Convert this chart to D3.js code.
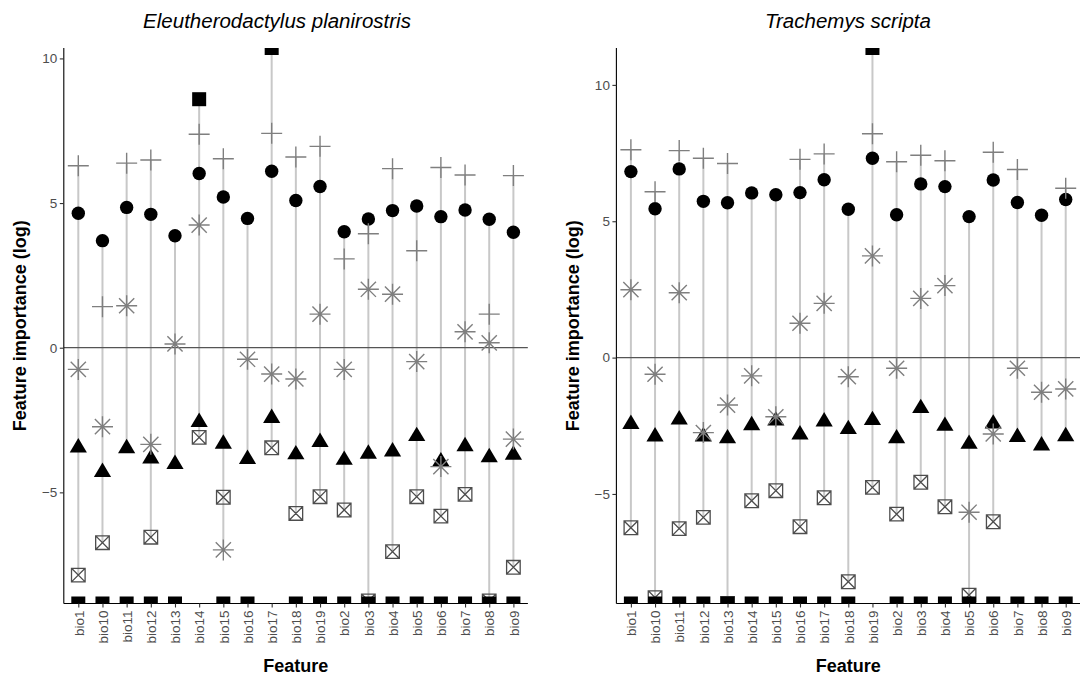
<!DOCTYPE html>
<html>
<head>
<meta charset="utf-8">
<script src="https://cdn.jsdelivr.net/npm/d3@7"></script>
<style>
  html, body { margin: 0; padding: 0; background: #fff; }
  svg { display: block; font-family: "Liberation Sans", Arial, Helvetica, sans-serif; }
</style>
</head>
<body>
<svg id="chart" width="1080" height="677"></svg>
<script>
// ---------------- DATA ----------------
const features = ["bio1","bio10","bio11","bio12","bio13","bio14","bio15","bio16","bio17","bio18","bio19","bio2","bio3","bio4","bio5","bio6","bio7","bio8","bio9"];
const yTicks = [-5, 0, 5, 10];
const titles = ["Eleutherodactylus planirostris", "Trachemys scripta"];
const xTitle = "Feature";
const yTitle = "Feature importance (log)";
const NEG = -Infinity, POS = Infinity;

// Eleutherodactylus planirostris
const leftPlus     = [6.29, 1.42, 6.38, 6.49, null, 7.38, 6.53, null, 7.41, 6.59, 6.96, 3.07, 3.94, 6.19, 3.35, 6.23, 5.97, 1.16, 5.95];
const leftCircle   = [4.65, 3.70, 4.85, 4.61, 3.87, 6.02, 5.21, 4.47, 6.10, 5.09, 5.57, 4.01, 4.45, 4.74, 4.90, 4.53, 4.76, 4.44, 3.99];
const leftStar     = [-0.75, -2.73, 1.45, -3.34, 0.13, 4.24, -6.99, -0.40, -0.91, -1.08, 1.16, -0.75, 2.02, 1.85, -0.48, -4.11, 0.55, 0.17, -3.16];
const leftTriangle = [-3.37, -4.22, -3.40, -3.75, -3.94, -2.49, -3.24, -3.77, -2.35, -3.61, -3.18, -3.80, -3.59, -3.51, -2.98, -3.85, -3.33, -3.71, -3.62];
const leftBoxX     = [-7.86, -6.74, null, -6.55, null, -3.10, -5.17, null, -3.46, -5.73, -5.15, -5.61, -8.75, -7.05, -5.15, -5.82, -5.07, -8.75, -7.59];
const leftSquare   = [NEG, NEG, NEG, NEG, NEG, 8.59, NEG, NEG, POS, NEG, NEG, NEG, NEG, NEG, NEG, NEG, NEG, NEG, NEG];
const leftYDomain  = [-8.842, 10.36];

// Trachemys scripta
const rightPlus     = [7.62, 6.08, 7.59, 7.31, 7.12, null, null, 7.27, 7.47, null, 8.21, 7.18, 7.42, 7.22, null, 7.53, 6.90, null, 6.21];
const rightCircle   = [6.82, 5.46, 6.92, 5.73, 5.68, 6.04, 5.97, 6.05, 6.52, 5.44, 7.31, 5.24, 6.37, 6.27, 5.17, 6.51, 5.69, 5.22, 5.80];
const rightStar     = [2.49, -0.61, 2.38, -2.75, -1.74, -0.67, -2.17, 1.26, 1.99, -0.70, 3.73, -0.39, 2.17, 2.64, -5.67, -2.80, -0.39, -1.27, -1.15];
const rightTriangle = [-2.35, -2.81, -2.19, -2.81, -2.88, -2.40, -2.23, -2.74, -2.26, -2.54, -2.21, -2.88, -1.77, -2.42, -3.08, -2.34, -2.83, -3.14, -2.80];
const rightBoxX     = [-6.24, -8.80, -6.27, -5.86, NEG, -5.25, -4.88, -6.20, -5.14, -8.22, -4.76, -5.74, -4.57, -5.47, -8.71, -6.02, null, null, null];
const rightSquare   = [NEG, NEG, NEG, NEG, NEG, NEG, NEG, NEG, NEG, NEG, POS, NEG, NEG, NEG, NEG, NEG, NEG, NEG, NEG];
const rightYDomain  = [-9.017, 11.353];

// ---------------- LAYOUT ----------------
const panels = [
  { title: titles[0], x0: 63.8, x1: 527.9, titleX: 277, yTitleX: 20, yDomain: leftYDomain,
    plus: leftPlus, circle: leftCircle, star: leftStar, tri: leftTriangle, boxx: leftBoxX, square: leftSquare },
  { title: titles[1], x0: 616.4, x1: 1080.2, titleX: 848, yTitleX: 573, yDomain: rightYDomain,
    plus: rightPlus, circle: rightCircle, star: rightStar, tri: rightTriangle, boxx: rightBoxX, square: rightSquare }
];
const panelTop = 48, panelBottom = 603.5;

const svg = d3.select("#chart");
const defs = svg.append("defs");

panels.forEach((p, pi) => {
  const x = d3.scalePoint().domain(features).range([p.x0, p.x1]).padding(0.6);
  const y = d3.scaleLinear().domain(p.yDomain).range([panelBottom, panelTop]).clamp(true);

  const clipId = "clip" + pi;
  defs.append("clipPath").attr("id", clipId).append("rect")
    .attr("x", p.x0).attr("y", panelTop).attr("width", p.x1 - p.x0).attr("height", panelBottom - panelTop);

  const g = svg.append("g");
  const plot = g.append("g").attr("clip-path", `url(#${clipId})`);

  const rows = features.map((f, i) => {
    const methods = [p.plus[i], p.circle[i], p.star[i], p.tri[i], p.boxx[i]].filter(v => v !== null);
    const all = methods.concat(p.square[i] !== null ? [p.square[i]] : []);
    return { f, lo: d3.min(methods), hi: d3.max(all),
      plus: p.plus[i], circle: p.circle[i], star: p.star[i], tri: p.tri[i], boxx: p.boxx[i], square: p.square[i] };
  });

  // vertical ranges
  plot.selectAll("line.range").data(rows).join("line")
    .attr("class", "range")
    .attr("x1", d => x(d.f)).attr("x2", d => x(d.f))
    .attr("y1", d => y(d.lo)).attr("y2", d => y(d.hi))
    .attr("stroke", "#c8c8c8").attr("stroke-width", 2);

  // zero line
  plot.append("line")
    .attr("x1", p.x0).attr("x2", p.x1).attr("y1", y(0)).attr("y2", y(0))
    .attr("stroke", "#555").attr("stroke-width", 1.2);

  // triangles (filled black)
  const tw = 8.6, th = 7.2;
  plot.selectAll("path.tri").data(rows.filter(d => d.tri !== null)).join("path")
    .attr("class", "tri")
    .attr("d", d => { const cx = x(d.f), cy = y(d.tri);
      return `M${cx},${cy - th}L${cx + tw},${cy + th}L${cx - tw},${cy + th}Z`; })
    .attr("fill", "#000");

  // circles
  plot.selectAll("circle.pt").data(rows.filter(d => d.circle !== null)).join("circle")
    .attr("class", "pt")
    .attr("cx", d => x(d.f)).attr("cy", d => y(d.circle)).attr("r", 6.7)
    .attr("fill", "#000");

  // plus
  const pr = 10.5;
  plot.selectAll("path.plus").data(rows.filter(d => d.plus !== null)).join("path")
    .attr("class", "plus")
    .attr("d", d => { const cx = x(d.f), cy = y(d.plus);
      return `M${cx - pr},${cy}H${cx + pr}M${cx},${cy - pr}V${cy + pr}`; })
    .attr("stroke", "#7f7f7f").attr("stroke-width", 1.4).attr("fill", "none");

  // asterisk
  const sr = 10.5, sd = 7.6;
  plot.selectAll("path.star").data(rows.filter(d => d.star !== null)).join("path")
    .attr("class", "star")
    .attr("d", d => { const cx = x(d.f), cy = y(d.star);
      return `M${cx - sr},${cy}H${cx + sr}M${cx},${cy - sr}V${cy + sr}` +
             `M${cx - sd},${cy - sd}L${cx + sd},${cy + sd}M${cx - sd},${cy + sd}L${cx + sd},${cy - sd}`; })
    .attr("stroke", "#7f7f7f").attr("stroke-width", 1.4).attr("fill", "none");

  // crossed squares
  const bs = 6.8;
  plot.selectAll("path.boxx").data(rows.filter(d => d.boxx !== null)).join("path")
    .attr("class", "boxx")
    .attr("d", d => { const cx = x(d.f), cy = y(d.boxx);
      return `M${cx - bs},${cy - bs}H${cx + bs}V${cy + bs}H${cx - bs}Z` +
             `M${cx - bs},${cy - bs}L${cx + bs},${cy + bs}M${cx - bs},${cy + bs}L${cx + bs},${cy - bs}`; })
    .attr("stroke", "#4d4d4d").attr("stroke-width", 1.3).attr("fill", "none");

  // filled squares
  const qs = 7;
  plot.selectAll("rect.sq").data(rows.filter(d => d.square !== null)).join("rect")
    .attr("class", "sq")
    .attr("x", d => x(d.f) - qs).attr("y", d => y(d.square) - qs)
    .attr("width", 2 * qs).attr("height", 2 * qs)
    .attr("fill", "#000");

  // axes
  const xAxis = g.append("g").attr("transform", `translate(0,${panelBottom})`)
    .call(d3.axisBottom(x).tickSize(4).tickSizeOuter(0));
  xAxis.select(".domain").attr("d", `M${p.x0},0H${p.x1}`).attr("stroke", "#000").attr("stroke-width", 1.1);
  xAxis.selectAll(".tick line").attr("stroke", "#333").attr("stroke-width", 1.1);
  xAxis.selectAll(".tick text")
    .attr("transform", "rotate(-90)")
    .attr("x", -7).attr("y", 0).attr("dy", "0.35em")
    .style("text-anchor", "end")
    .attr("fill", "#4d4d4d").style("font-size", "13.5px");

  const yAxis = g.append("g").attr("transform", `translate(${p.x0},0)`)
    .call(d3.axisLeft(y).tickValues(yTicks).tickFormat(d3.format("d")).tickSize(4).tickSizeOuter(0).tickPadding(2.5));
  yAxis.select(".domain").attr("d", `M0,${panelTop}V${panelBottom}`).attr("stroke", "#000").attr("stroke-width", 1.1);
  yAxis.selectAll(".tick line").attr("stroke", "#333").attr("stroke-width", 1.1);
  yAxis.selectAll(".tick text").attr("fill", "#4d4d4d").style("font-size", "13.5px");

  // titles
  g.append("text").attr("x", p.titleX).attr("y", 28)
    .attr("text-anchor", "middle").style("font-style", "italic").style("font-size", "20.5px")
    .attr("fill", "#000").text(p.title);
  g.append("text").attr("x", (p.x0 + p.x1) / 2).attr("y", 672)
    .attr("text-anchor", "middle").style("font-weight", "bold").style("font-size", "18px")
    .attr("fill", "#000").text(xTitle);
  g.append("text").attr("transform", `translate(${p.yTitleX},${(panelTop + panelBottom) / 2}) rotate(-90)`)
    .attr("dy", "0.35em")
    .attr("text-anchor", "middle").style("font-weight", "bold").style("font-size", "18px")
    .attr("fill", "#000").text(yTitle);
});
</script>
</body>
</html>
